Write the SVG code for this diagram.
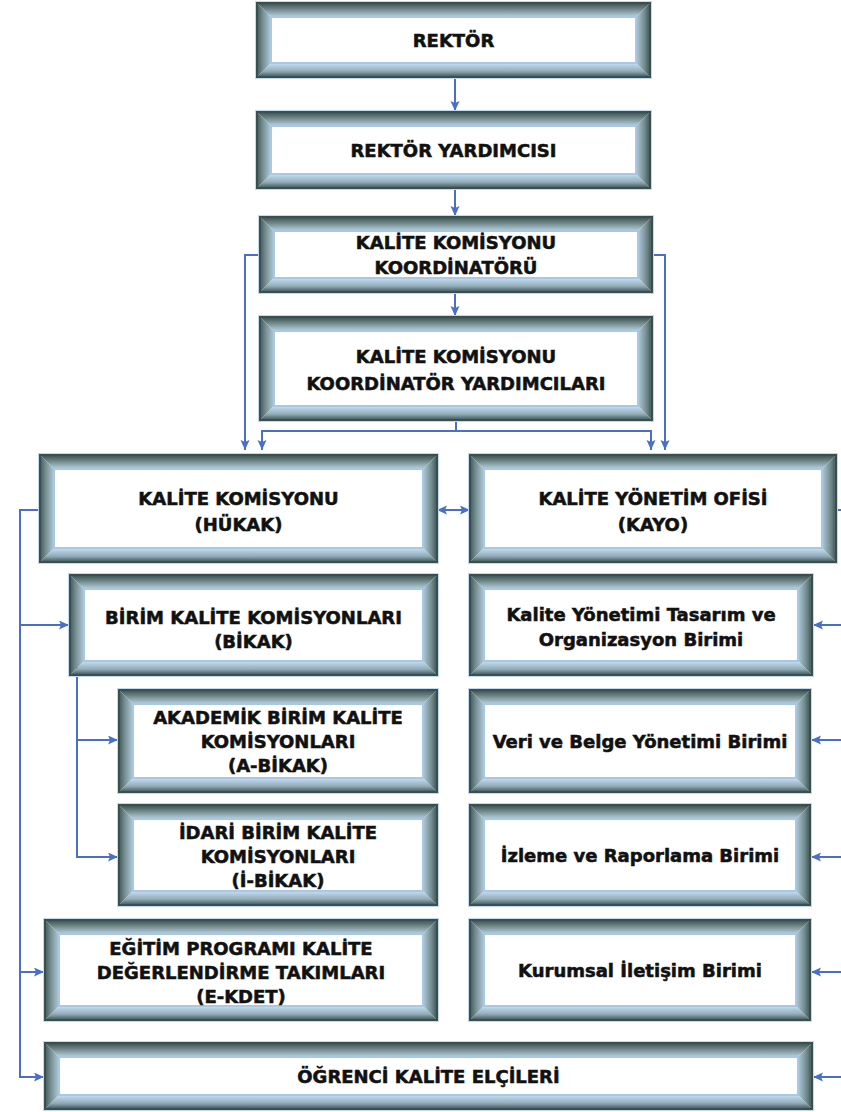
<svg xmlns="http://www.w3.org/2000/svg" width="841" height="1112" viewBox="0 0 841 1112">
<defs>
<linearGradient id="gT" x1="0" y1="0" x2="0" y2="1"><stop offset="0" stop-color="#3a5050"/><stop offset="0.4" stop-color="#687f80"/><stop offset="1" stop-color="#b0c8d6"/></linearGradient>
<linearGradient id="gB" x1="0" y1="0" x2="0" y2="1"><stop offset="0" stop-color="#c0d9ee"/><stop offset="0.55" stop-color="#92acb8"/><stop offset="1" stop-color="#3f5555"/></linearGradient>
<linearGradient id="gL" x1="0" y1="0" x2="1" y2="0"><stop offset="0" stop-color="#435a5a"/><stop offset="0.45" stop-color="#768f92"/><stop offset="1" stop-color="#a9c2d1"/></linearGradient>
<linearGradient id="gR" x1="0" y1="0" x2="1" y2="0"><stop offset="0" stop-color="#a9c2d1"/><stop offset="0.55" stop-color="#768f92"/><stop offset="1" stop-color="#3f5555"/></linearGradient>
<marker id="ah" markerUnits="userSpaceOnUse" markerWidth="10" markerHeight="10" refX="10" refY="4.5" orient="auto-start-reverse"><path d="M0,0 L10,4.5 L0,9 L2,4.5 z" fill="#4a6fc8"/></marker>
</defs>
<style>
.glow{fill:none;stroke:#c3d9ef;stroke-width:4}
.ol{fill:none;stroke:#3a5050;stroke-width:2}
.bt{fill:url(#gT)}.bb{fill:url(#gB)}.bl{fill:url(#gL)}.br{fill:url(#gR)}
.in{fill:#fff;stroke:#a8c8e6;stroke-width:2}
text{font-family:"DejaVu Sans","Liberation Sans",sans-serif;font-weight:bold;font-size:18px;fill:#111;stroke:#111;stroke-width:0.55;text-anchor:middle}
.c{fill:none;stroke:#4a6fc8;stroke-width:2}
</style>
<rect width="841" height="1112" fill="#fff"/>

<g id="connectors">
<line class="c" x1="455" y1="77" x2="455" y2="111" marker-end="url(#ah)"/>
<line class="c" x1="455" y1="188" x2="455" y2="216" marker-end="url(#ah)"/>
<line class="c" x1="455" y1="292" x2="455" y2="316" marker-end="url(#ah)"/>
<polyline class="c" points="456,420 456,431"/>
<polyline class="c" points="262,450 262,431 651,431 651,450" marker-start="url(#ah)" marker-end="url(#ah)"/>
<polyline class="c" points="260,255 245,255 245,450" marker-end="url(#ah)"/>
<polyline class="c" points="652,255 665,255 665,450" marker-end="url(#ah)"/>
<line class="c" x1="437" y1="510" x2="470" y2="510" marker-start="url(#ah)" marker-end="url(#ah)"/>
<line class="c" x1="836" y1="510" x2="841" y2="510"/>
<polyline class="c" points="40,510 20,510 20,1077 44,1077" marker-end="url(#ah)"/>
<line class="c" x1="20" y1="625" x2="69" y2="625" marker-end="url(#ah)"/>
<line class="c" x1="20" y1="972" x2="44" y2="972" marker-end="url(#ah)"/>
<polyline class="c" points="77,662 77,857 118,857" marker-end="url(#ah)"/>
<line class="c" x1="77" y1="740" x2="118" y2="740" marker-end="url(#ah)"/>
<line class="c" x1="841" y1="625" x2="813" y2="625" marker-end="url(#ah)"/>
<line class="c" x1="841" y1="740" x2="811" y2="740" marker-end="url(#ah)"/>
<line class="c" x1="841" y1="857" x2="811" y2="857" marker-end="url(#ah)"/>
<line class="c" x1="841" y1="972" x2="811" y2="972" marker-end="url(#ah)"/>
<line class="c" x1="841" y1="1077" x2="813" y2="1077" marker-end="url(#ah)"/>
</g>

<g id="rektor">
<rect class="glow" x="257" y="3" width="393" height="74"/>
<polygon class="bt" points="257,3 650,3 637,16 270,16"/>
<polygon class="bb" points="270,64 637,64 650,77 257,77"/>
<polygon class="bl" points="257,3 270,16 270,64 257,77"/>
<polygon class="br" points="637,16 650,3 650,77 637,64"/>
<rect class="ol" x="257" y="3" width="393" height="74"/>
<rect class="in" x="271" y="17" width="365" height="46"/>
<text x="453.5" y="47">REKTÖR</text>
</g>

<g id="rektor-yardimcisi">
<rect class="glow" x="257" y="112" width="393" height="76"/>
<polygon class="bt" points="257,112 650,112 637,125 270,125"/>
<polygon class="bb" points="270,175 637,175 650,188 257,188"/>
<polygon class="bl" points="257,112 270,125 270,175 257,188"/>
<polygon class="br" points="637,125 650,112 650,188 637,175"/>
<rect class="ol" x="257" y="112" width="393" height="76"/>
<rect class="in" x="271" y="126" width="365" height="48"/>
<text x="453.5" y="157">REKTÖR YARDIMCISI</text>
</g>

<g id="koordinator">
<rect class="glow" x="260" y="217" width="392" height="75"/>
<polygon class="bt" points="260,217 652,217 639,230 273,230"/>
<polygon class="bb" points="273,279 639,279 652,292 260,292"/>
<polygon class="bl" points="260,217 273,230 273,279 260,292"/>
<polygon class="br" points="639,230 652,217 652,292 639,279"/>
<rect class="ol" x="260" y="217" width="392" height="75"/>
<rect class="in" x="274" y="231" width="364" height="47"/>
<text x="456" y="249">KALİTE KOMİSYONU</text>
<text x="456" y="274">KOORDİNATÖRÜ</text>
</g>

<g id="koordinator-yardimcilari">
<rect class="glow" x="260" y="317" width="392" height="103"/>
<polygon class="bt" points="260,317 652,317 639,330 273,330"/>
<polygon class="bb" points="273,407 639,407 652,420 260,420"/>
<polygon class="bl" points="260,317 273,330 273,407 260,420"/>
<polygon class="br" points="639,330 652,317 652,420 639,407"/>
<rect class="ol" x="260" y="317" width="392" height="103"/>
<rect class="in" x="274" y="331" width="364" height="75"/>
<text x="456" y="363">KALİTE KOMİSYONU</text>
<text x="456" y="390">KOORDİNATÖR YARDIMCILARI</text>
</g>

<g id="hukak">
<rect class="glow" x="40" y="455" width="397" height="107"/>
<polygon class="bt" points="40,455 437,455 424,468 53,468"/>
<polygon class="bb" points="53,549 424,549 437,562 40,562"/>
<polygon class="bl" points="40,455 53,468 53,549 40,562"/>
<polygon class="br" points="424,468 437,455 437,562 424,549"/>
<rect class="ol" x="40" y="455" width="397" height="107"/>
<rect class="in" x="54" y="469" width="369" height="79"/>
<text x="238.5" y="505">KALİTE KOMİSYONU</text>
<text x="238.5" y="531">(HÜKAK)</text>
</g>

<g id="kayo">
<rect class="glow" x="470" y="455" width="366" height="107"/>
<polygon class="bt" points="470,455 836,455 823,468 483,468"/>
<polygon class="bb" points="483,549 823,549 836,562 470,562"/>
<polygon class="bl" points="470,455 483,468 483,549 470,562"/>
<polygon class="br" points="823,468 836,455 836,562 823,549"/>
<rect class="ol" x="470" y="455" width="366" height="107"/>
<rect class="in" x="484" y="469" width="338" height="79"/>
<text x="653" y="505">KALİTE YÖNETİM OFİSİ</text>
<text x="653" y="531">(KAYO)</text>
</g>

<g id="bikak">
<rect class="glow" x="70" y="575" width="367" height="100"/>
<polygon class="bt" points="70,575 437,575 424,588 83,588"/>
<polygon class="bb" points="83,662 424,662 437,675 70,675"/>
<polygon class="bl" points="70,575 83,588 83,662 70,675"/>
<polygon class="br" points="424,588 437,575 437,675 424,662"/>
<rect class="ol" x="70" y="575" width="367" height="100"/>
<rect class="in" x="84" y="589" width="339" height="72"/>
<text x="253.5" y="624">BİRİM KALİTE KOMİSYONLARI</text>
<text x="253.5" y="648">(BİKAK)</text>
</g>

<g id="tasarim">
<rect class="glow" x="470" y="575" width="342" height="100"/>
<polygon class="bt" points="470,575 812,575 799,588 483,588"/>
<polygon class="bb" points="483,662 799,662 812,675 470,675"/>
<polygon class="bl" points="470,575 483,588 483,662 470,675"/>
<polygon class="br" points="799,588 812,575 812,675 799,662"/>
<rect class="ol" x="470" y="575" width="342" height="100"/>
<rect class="in" x="484" y="589" width="314" height="72"/>
<text x="641" y="621">Kalite Yönetimi Tasarım ve</text>
<text x="641" y="646">Organizasyon Birimi</text>
</g>

<g id="a-bikak">
<rect class="glow" x="119" y="690" width="318" height="102"/>
<polygon class="bt" points="119,690 437,690 424,703 132,703"/>
<polygon class="bb" points="132,779 424,779 437,792 119,792"/>
<polygon class="bl" points="119,690 132,703 132,779 119,792"/>
<polygon class="br" points="424,703 437,690 437,792 424,779"/>
<rect class="ol" x="119" y="690" width="318" height="102"/>
<rect class="in" x="133" y="704" width="290" height="74"/>
<text x="278" y="724">AKADEMİK BİRİM KALİTE</text>
<text x="278" y="748">KOMİSYONLARI</text>
<text x="278" y="772">(A-BİKAK)</text>
</g>

<g id="veri">
<rect class="glow" x="470" y="690" width="340" height="102"/>
<polygon class="bt" points="470,690 810,690 797,703 483,703"/>
<polygon class="bb" points="483,779 797,779 810,792 470,792"/>
<polygon class="bl" points="470,690 483,703 483,779 470,792"/>
<polygon class="br" points="797,703 810,690 810,792 797,779"/>
<rect class="ol" x="470" y="690" width="340" height="102"/>
<rect class="in" x="484" y="704" width="312" height="74"/>
<text x="640" y="748">Veri ve Belge Yönetimi Birimi</text>
</g>

<g id="i-bikak">
<rect class="glow" x="119" y="805" width="318" height="100"/>
<polygon class="bt" points="119,805 437,805 424,818 132,818"/>
<polygon class="bb" points="132,892 424,892 437,905 119,905"/>
<polygon class="bl" points="119,805 132,818 132,892 119,905"/>
<polygon class="br" points="424,818 437,805 437,905 424,892"/>
<rect class="ol" x="119" y="805" width="318" height="100"/>
<rect class="in" x="133" y="819" width="290" height="72"/>
<text x="278" y="839">İDARİ BİRİM KALİTE</text>
<text x="278" y="863">KOMİSYONLARI</text>
<text x="278" y="887">(İ-BİKAK)</text>
</g>

<g id="izleme">
<rect class="glow" x="470" y="805" width="340" height="100"/>
<polygon class="bt" points="470,805 810,805 797,818 483,818"/>
<polygon class="bb" points="483,892 797,892 810,905 470,905"/>
<polygon class="bl" points="470,805 483,818 483,892 470,905"/>
<polygon class="br" points="797,818 810,805 810,905 797,892"/>
<rect class="ol" x="470" y="805" width="340" height="100"/>
<rect class="in" x="484" y="819" width="312" height="72"/>
<text x="640" y="862">İzleme ve Raporlama Birimi</text>
</g>

<g id="e-kdet">
<rect class="glow" x="45" y="920" width="392" height="100"/>
<polygon class="bt" points="45,920 437,920 424,933 58,933"/>
<polygon class="bb" points="58,1007 424,1007 437,1020 45,1020"/>
<polygon class="bl" points="45,920 58,933 58,1007 45,1020"/>
<polygon class="br" points="424,933 437,920 437,1020 424,1007"/>
<rect class="ol" x="45" y="920" width="392" height="100"/>
<rect class="in" x="59" y="934" width="364" height="72"/>
<text x="241" y="955">EĞİTİM PROGRAMI KALİTE</text>
<text x="241" y="979">DEĞERLENDİRME TAKIMLARI</text>
<text x="241" y="1003">(E-KDET)</text>
</g>

<g id="kurumsal">
<rect class="glow" x="470" y="920" width="340" height="100"/>
<polygon class="bt" points="470,920 810,920 797,933 483,933"/>
<polygon class="bb" points="483,1007 797,1007 810,1020 470,1020"/>
<polygon class="bl" points="470,920 483,933 483,1007 470,1020"/>
<polygon class="br" points="797,933 810,920 810,1020 797,1007"/>
<rect class="ol" x="470" y="920" width="340" height="100"/>
<rect class="in" x="484" y="934" width="312" height="72"/>
<text x="640" y="977">Kurumsal İletişim Birimi</text>
</g>

<g id="ogrenci">
<rect class="glow" x="45" y="1043" width="767" height="66"/>
<polygon class="bt" points="45,1043 812,1043 799,1056 58,1056"/>
<polygon class="bb" points="58,1096 799,1096 812,1109 45,1109"/>
<polygon class="bl" points="45,1043 58,1056 58,1096 45,1109"/>
<polygon class="br" points="799,1056 812,1043 812,1109 799,1096"/>
<rect class="ol" x="45" y="1043" width="767" height="66"/>
<rect class="in" x="59" y="1057" width="739" height="38"/>
<text x="428.5" y="1083">ÖĞRENCİ KALİTE ELÇİLERİ</text>
</g>
</svg>
